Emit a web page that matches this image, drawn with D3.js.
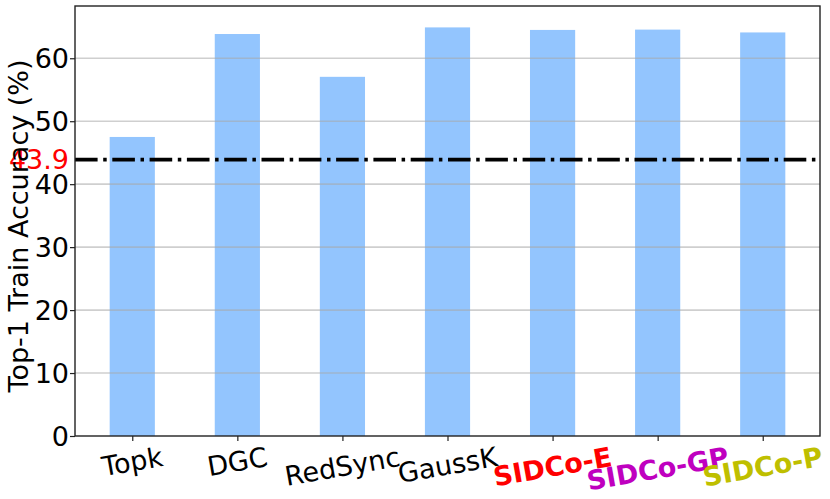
<!DOCTYPE html>
<html>
<head>
<meta charset="utf-8">
<script src="https://cdn.jsdelivr.net/npm/d3@7"></script>
<style>
  body { margin: 0; background: #fff; }
  text { font-family: "DejaVu Sans", sans-serif; }
</style>
</head>
<body>
<svg id="chart" width="830" height="499"></svg>
<script>
const categories = ["Topk", "DGC", "RedSync", "GaussK", "SIDCo-E", "SIDCo-GP", "SIDCo-P"];
const accuracy = [47.5, 63.85, 57.05, 64.9, 64.5, 64.55, 64.1];
const labelColors = ["#000000", "#000000", "#000000", "#000000", "#ff0000", "#bf00bf", "#bfbf00"];
const labelBold = [false, false, false, false, true, true, true];
const yTicks = [0, 10, 20, 30, 40, 50, 60];
const baselineValue = 43.9;
const yLabel = "Top-1 Train Accuracy (%)";

(function () {
const svg = d3.select("#chart");
const mLeft = 75, mRight = 820, mTop = 6, mBottom = 436;
const fs = 27;

const x = d3.scaleLinear().domain([-0.545, 6.545]).range([mLeft, mRight]);
const y = d3.scaleLinear().domain([0, 68.3]).range([mBottom, mTop]);
const barW = 0.43;

// bars
svg.append("g").selectAll("rect").data(accuracy).join("rect")
  .attr("x", (d, i) => x(i - barW / 2))
  .attr("width", x(barW) - x(0))
  .attr("y", d => y(d))
  .attr("height", d => y(0) - y(d))
  .attr("fill", "#93c5fe");

// grid (drawn above bars like reference)
svg.append("g").selectAll("line").data(yTicks.filter(t => t > 0)).join("line")
  .attr("x1", mLeft).attr("x2", mRight)
  .attr("y1", d => y(d)).attr("y2", d => y(d))
  .attr("stroke", "#a8a8a8").attr("stroke-opacity", 0.55).attr("stroke-width", 1.6);

// baseline dash-dot
svg.append("line")
  .attr("x1", mLeft).attr("x2", mRight)
  .attr("y1", y(baselineValue)).attr("y2", y(baselineValue))
  .attr("stroke", "#000").attr("stroke-width", 3.6)
  .attr("stroke-dasharray", "22.6,5.6,3.5,5.6");

// frame
svg.append("rect").attr("x", mLeft).attr("y", mTop)
  .attr("width", mRight - mLeft).attr("height", mBottom - mTop)
  .attr("fill", "none").attr("stroke", "#222").attr("stroke-width", 1.4);

// y axis
const yAxis = d3.axisLeft(y).tickValues(yTicks).tickSize(5).tickPadding(1);
const gy = svg.append("g").attr("transform", `translate(${mLeft},0)`).call(yAxis);
gy.select(".domain").remove();
gy.selectAll(".tick line").attr("stroke", "#222").attr("stroke-width", 1.2);
gy.selectAll(".tick text").attr("font-size", fs).attr("font-family", "DejaVu Sans").attr("fill", "#000")
  .attr("dy", "0.35em");

// x axis ticks
const xAxis = d3.axisBottom(x).tickValues(d3.range(categories.length)).tickSize(5).tickFormat("");
const gx = svg.append("g").attr("transform", `translate(0,${mBottom})`).call(xAxis);
gx.select(".domain").remove();
gx.selectAll(".tick line").attr("stroke", "#222").attr("stroke-width", 1.2);

// x tick labels rotated 10deg, matplotlib-like top-center alignment
const ang = 10 * Math.PI / 180;
const labelTop = 441;
categories.forEach((c, i) => {
  const g = svg.append("g");
  const t = g.append("text")
    .attr("font-size", fs)
    .attr("font-weight", labelBold[i] ? "bold" : "normal")
    .attr("fill", labelColors[i])
    .attr("text-anchor", "middle")
    .attr("y", 0.346 * fs)
    .text(c);
  const w = t.node().getComputedTextLength();
  const h = 1.164 * fs;
  const H = w * Math.sin(ang) + h * Math.cos(ang);
  g.attr("transform", `translate(${x(i)},${labelTop + H / 2}) rotate(-10)`);
});

// baseline label
svg.append("text")
  .attr("x", mLeft - 6).attr("y", y(baselineValue))
  .attr("dy", "0.35em")
  .attr("text-anchor", "end")
  .attr("font-size", fs).attr("fill", "#ff0000")
  .text(baselineValue.toFixed(1));

// y label
svg.append("text")
  .attr("transform", `translate(28,${(mTop + mBottom) / 2 + 5}) rotate(-90)`)
  .attr("text-anchor", "middle")
  .attr("font-size", fs).attr("fill", "#000")
  .text(yLabel);
})();
</script>
</body>
</html>
